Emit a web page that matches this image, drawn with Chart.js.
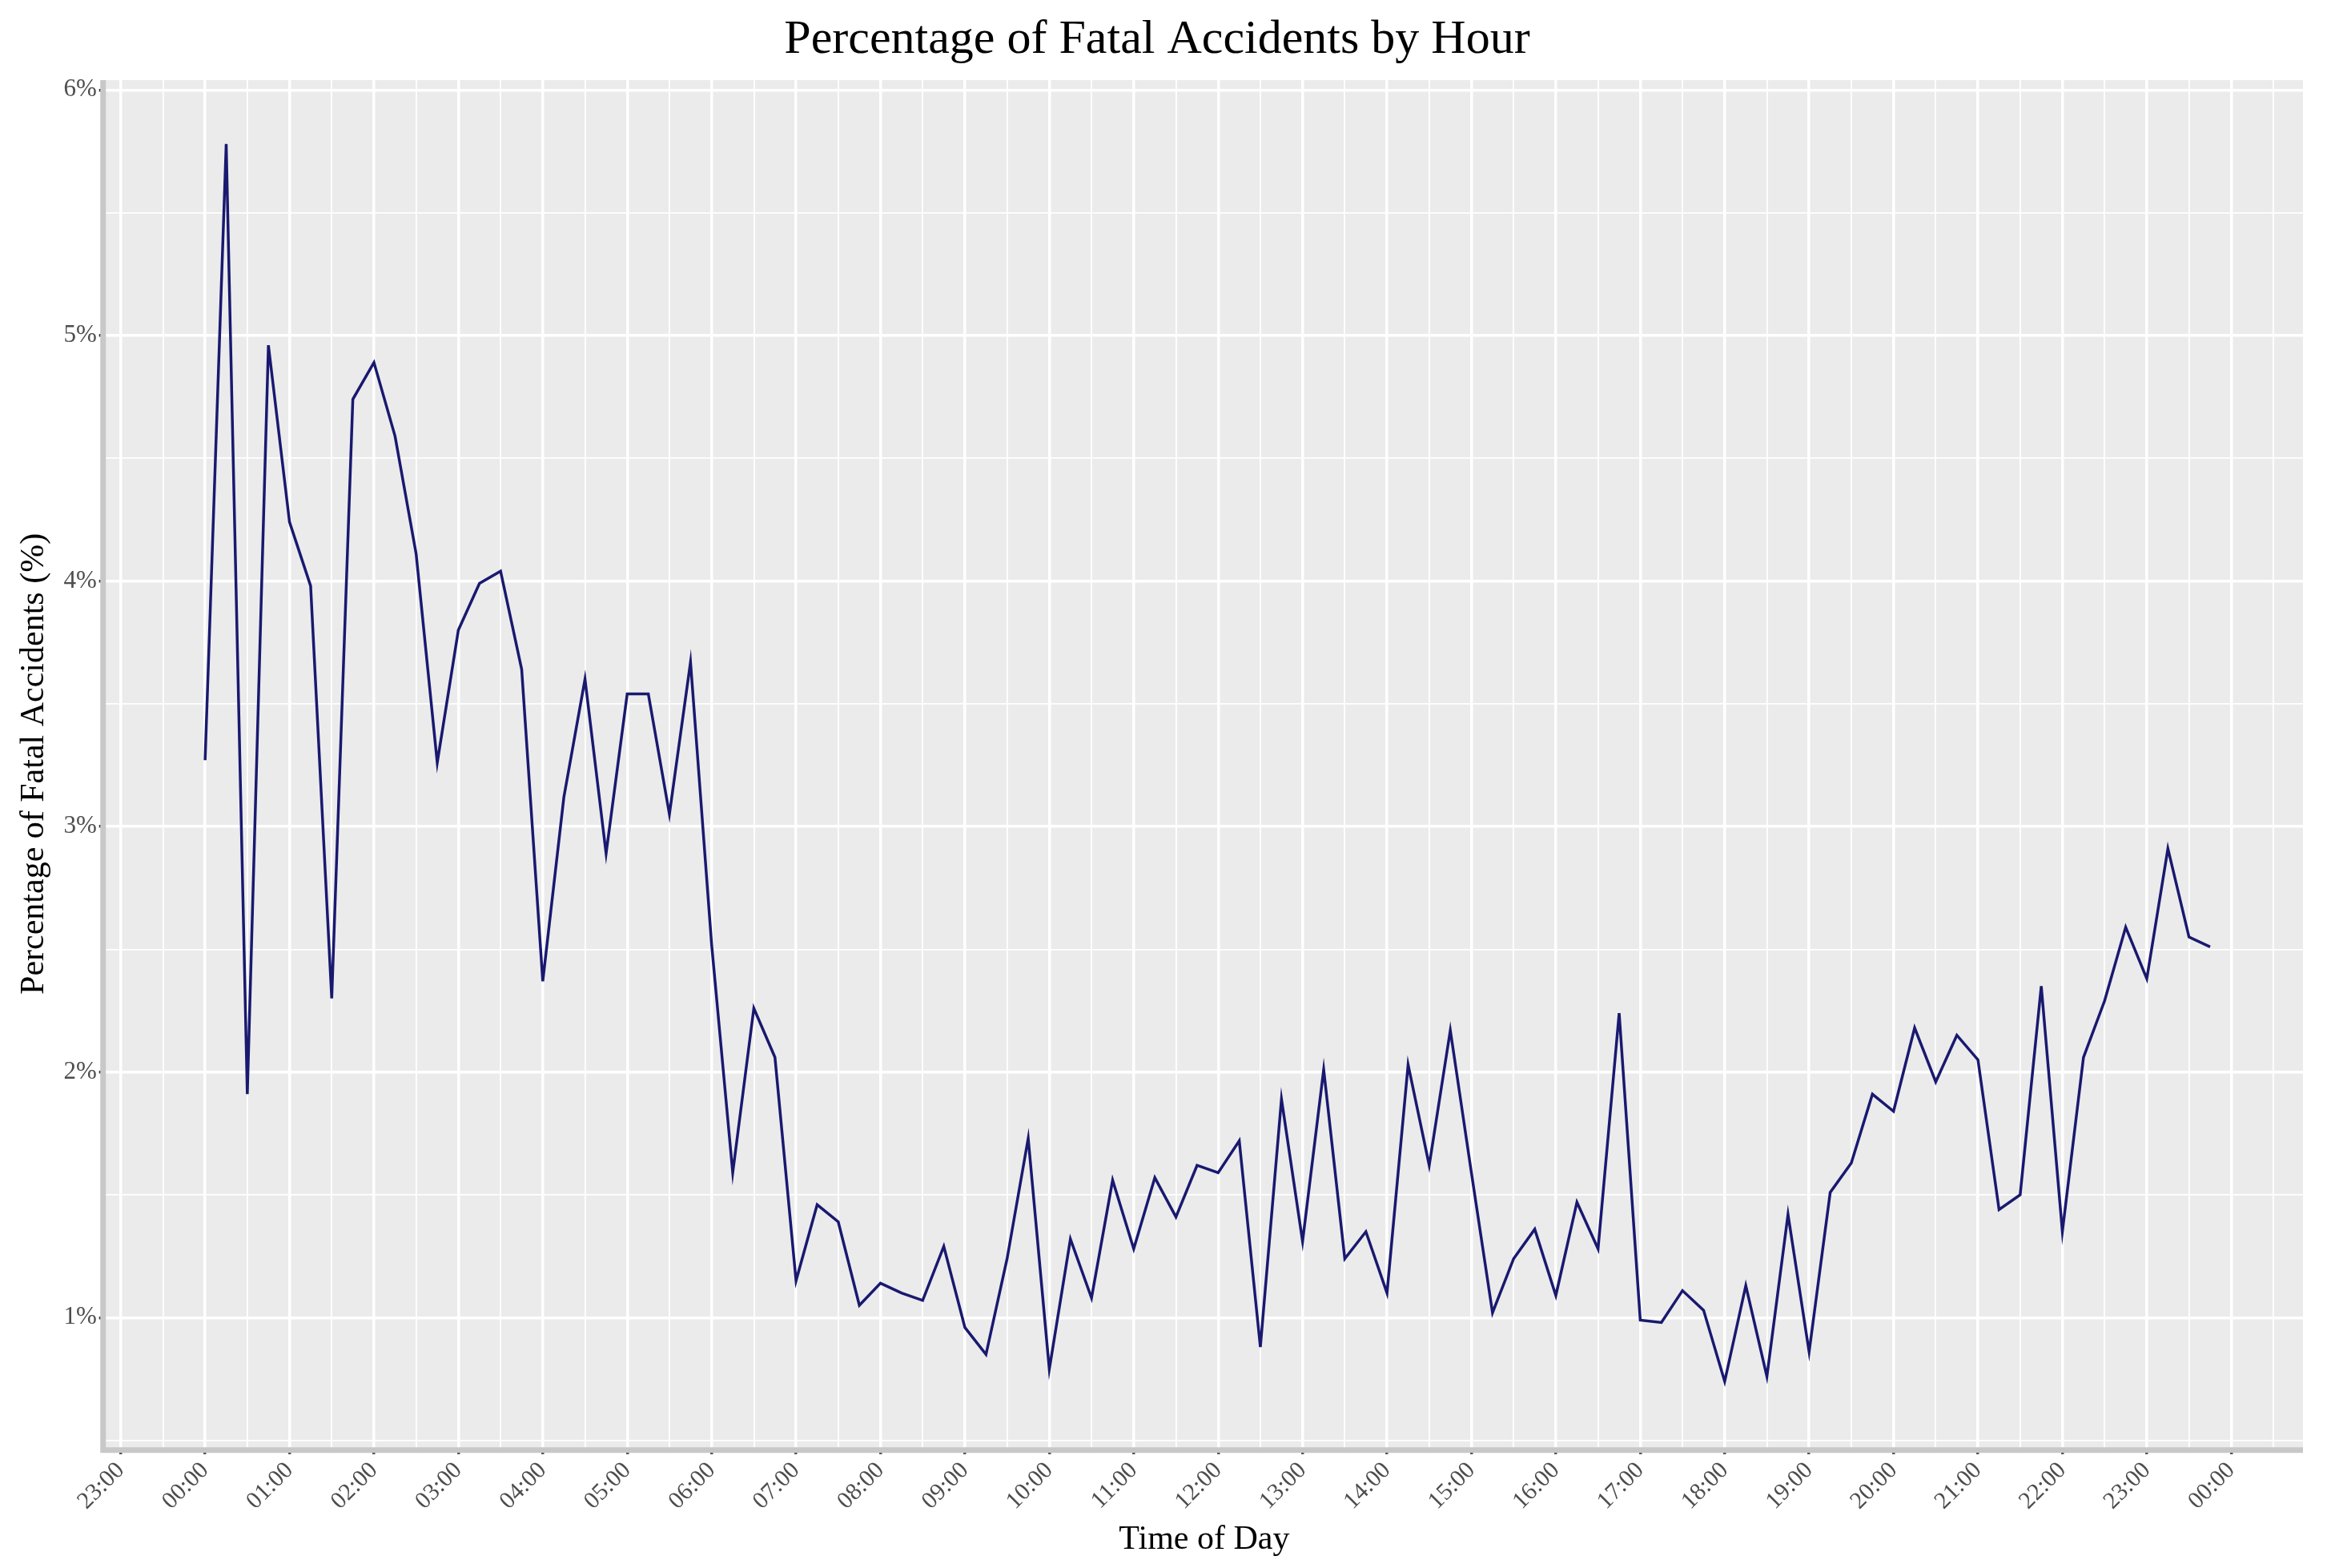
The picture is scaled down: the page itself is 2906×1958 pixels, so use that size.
<!DOCTYPE html>
<html>
<head>
<meta charset="utf-8">
<script src="https://cdn.jsdelivr.net/npm/chart.js@4"></script>
<style>
  html, body { margin:0; padding:0; background:#fff; }
  #wrap { width:2906px; height:1958px; }
</style>
</head>
<body>
<div id="wrap"><canvas id="c" width="2906" height="1958"></canvas></div>
<script>
// hours as decimal (15-min steps), values in percent
const hours = [];
for (let i = 0; i < 96; i++) hours.push(i / 4);
const pctFatal = [
  3.27, 5.78, 1.91, 4.96, 4.24, 3.98, 2.30, 4.74,
  4.89, 4.59, 4.11, 3.26, 3.80, 3.99, 4.04, 3.64,
  2.37, 3.12, 3.60, 2.89, 3.54, 3.54, 3.05, 3.67,
  2.52, 1.59, 2.26, 2.06, 1.15, 1.46, 1.39, 1.05,
  1.14, 1.10, 1.07, 1.29, 0.96, 0.85, 1.24, 1.73,
  0.79, 1.32, 1.08, 1.56, 1.28, 1.57, 1.41, 1.62,
  1.59, 1.72, 0.88, 1.89, 1.31, 2.01, 1.24, 1.35,
  1.10, 2.03, 1.62, 2.17, 1.59, 1.02, 1.24, 1.36,
  1.09, 1.47, 1.28, 2.24, 0.99, 0.98, 1.11, 1.03,
  0.74, 1.13, 0.76, 1.42, 0.86, 1.51, 1.63, 1.91,
  1.84, 2.18, 1.96, 2.15, 2.05, 1.44, 1.50, 2.35,
  1.35, 2.06, 2.29, 2.59, 2.38, 2.91, 2.55, 2.51
];
const xTicks = [];
for (let h = -1; h <= 24.5; h += 0.5) xTicks.push(h);
const yTicks = [0.5, 1, 1.5, 2, 2.5, 3, 3.5, 4, 4.5, 5, 5.5, 6];

const FONT = '"Liberation Serif", "DejaVu Serif", serif';
const hourLabel = h => String(((h % 24) + 24) % 24).padStart(2, '0') + ':00';
const isMajor = v => Math.abs(v - Math.round(v)) < 1e-6;

const panelBg = {
  id: 'panelBg',
  beforeDraw(chart) {
    const a = chart.chartArea, ctx = chart.ctx;
    ctx.save();
    ctx.fillStyle = '#ebebeb';
    ctx.fillRect(a.left, a.top, a.right - a.left, a.bottom - a.top);
    ctx.restore();
  },
  afterDraw(chart) {
    const a = chart.chartArea, ctx = chart.ctx;
    ctx.save();
    ctx.strokeStyle = '#c8c8c8';
    ctx.lineWidth = 7;
    ctx.beginPath();
    ctx.moveTo(a.left - 3, a.top);
    ctx.lineTo(a.left - 3, a.bottom + 3);
    ctx.lineTo(a.right, a.bottom + 3);
    ctx.stroke();
    ctx.restore();
  }
};

new Chart(document.getElementById('c'), {
  type: 'line',
  data: {
    datasets: [{
      data: hours.map((h, i) => ({ x: h, y: pctFatal[i] })),
      borderColor: '#191970',
      borderWidth: 3.5,
      pointRadius: 0,
      tension: 0,
      fill: false
    }]
  },
  options: {
    responsive: false,
    animation: false,
    layout: { padding: { top: 4, right: 30, left: 14, bottom: 6 } },
    plugins: {
      legend: { display: false },
      tooltip: { enabled: false },
      title: {
        display: true,
        text: 'Percentage of Fatal Accidents by Hour',
        color: '#000',
        font: { family: FONT, size: 60, weight: 'normal' },
        padding: { top: 10, bottom: 14 }
      }
    },
    scales: {
      x: {
        type: 'linear',
        min: -1.18,
        max: 24.85,
        afterBuildTicks: s => { s.ticks = xTicks.map(v => ({ value: v })); },
        ticks: {
          autoSkip: false,
          maxRotation: 45,
          minRotation: 45,
          color: '#4d4d4d',
          font: { family: FONT, size: 30 },
          callback: v => isMajor(v) ? hourLabel(Math.round(v)) : ''
        },
        grid: {
          color: '#ffffff',
          lineWidth: c => isMajor(c.tick.value) ? 3.5 : 1.8,
          tickColor: c => isMajor(c.tick.value) ? '#333' : 'rgba(0,0,0,0)',
          tickLength: 8,
          drawTicks: true
        },
        border: { display: false },
        title: {
          display: true,
          text: 'Time of Day',
          color: '#000',
          font: { family: FONT, size: 42 },
          padding: { top: 2 }
        }
      },
      y: {
        min: 0.47,
        max: 6.04,
        afterBuildTicks: s => { s.ticks = yTicks.map(v => ({ value: v })); },
        ticks: {
          autoSkip: false,
          color: '#4d4d4d',
          font: { family: FONT, size: 31 },
          callback: v => isMajor(v) ? Math.round(v) + '%' : ''
        },
        grid: {
          color: '#ffffff',
          lineWidth: c => isMajor(c.tick.value) ? 3.5 : 1.8,
          tickColor: c => isMajor(c.tick.value) ? '#333' : 'rgba(0,0,0,0)',
          tickLength: 8
        },
        border: { display: false },
        title: {
          display: true,
          text: 'Percentage of Fatal Accidents (%)',
          color: '#000',
          font: { family: FONT, size: 42 },
          padding: { bottom: 8 }
        }
      }
    }
  },
  plugins: [panelBg]
});
</script>
</body>
</html>
